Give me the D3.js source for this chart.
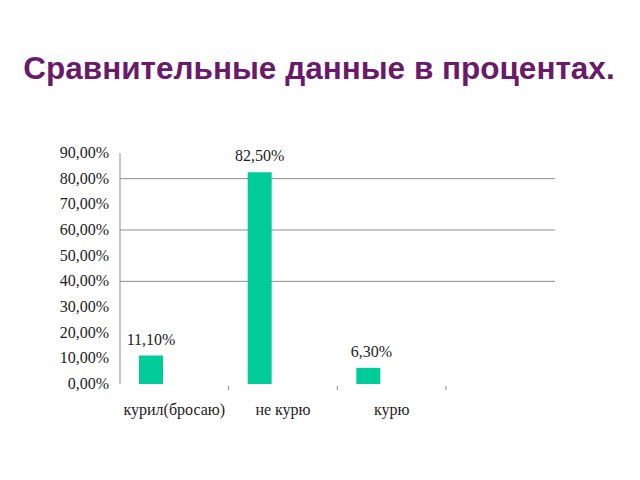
<!DOCTYPE html>
<html><head><meta charset="utf-8">
<script src="https://cdn.jsdelivr.net/npm/d3@7"></script>
<style>body{margin:0;background:#fff}</style></head>
<body><svg id="c" width="640" height="480"></svg>
<script>
const categories = ["курил(бросаю)", "не курю", "курю"];
const values = [0.111, 0.825, 0.063];
const valueLabels = ["11,10%", "82,50%", "6,30%"];
const yTicks = [0,0.1,0.2,0.3,0.4,0.5,0.6,0.7,0.8,0.9];
const gridTicks = [0.4,0.6,0.8];
const tickLabel = v => (v*100).toFixed(2).replace(".", ",") + "%";

const svg = d3.select("#c");
const font = "'Liberation Serif', 'DejaVu Serif', serif";
svg.append("text").attr("x", 319).attr("y", 79).attr("text-anchor","middle")
  .attr("font-family", "'Liberation Sans', Arial, sans-serif").attr("font-weight","bold").attr("font-size", 31.5)
  .attr("fill","#6b1a6b").text("Сравнительные данные в процентах.");

const y = d3.scaleLinear().domain([0,0.9]).range([384,153]);
const x = d3.scaleBand().domain(categories).range([120,446]);
const left = 120, right = 555;

svg.selectAll(".grid").data(gridTicks).join("line")
  .attr("x1", left).attr("x2", right).attr("y1", d=>y(d)).attr("y2", d=>y(d))
  .attr("stroke","#8c8c8c").attr("stroke-width",1);
svg.append("line").attr("x1",left).attr("x2",left).attr("y1",y(0.9)).attr("y2",y(0))
  .attr("stroke","#8c8c8c");
svg.selectAll(".xt").data(categories.slice(1).concat(["end"])).join("line")
  .attr("x1",(d,i)=>120+x.bandwidth()*(i+1)).attr("x2",(d,i)=>120+x.bandwidth()*(i+1))
  .attr("y1",386).attr("y2",390).attr("stroke","#8c8c8c");

svg.selectAll(".yl").data(yTicks).join("text")
  .attr("x", 109).attr("y", d=>y(d)+5).attr("text-anchor","end")
  .attr("font-family", font).attr("font-size", 16).attr("fill","#222").text(tickLabel);

svg.selectAll(".bar").data(values).join("rect")
  .attr("x",(d,i)=>x(categories[i])+19).attr("width",24)
  .attr("y",d=>y(d)).attr("height",d=>y(0)-y(d)).attr("fill","#00cc99");

svg.selectAll(".vl").data(values).join("text")
  .attr("x",(d,i)=>x(categories[i])+31+(i==2?3:0)).attr("y",d=>y(d)-11)
  .attr("text-anchor","middle").attr("font-family",font).attr("font-size",16).attr("fill","#222")
  .text((d,i)=>valueLabels[i]);

svg.selectAll(".cl").data(categories).join("text")
  .attr("x",d=>x(d)+x.bandwidth()/2).attr("y",415).attr("text-anchor","middle")
  .attr("font-family",font).attr("font-size",16).attr("fill","#222").text(d=>d);
</script></body></html>
